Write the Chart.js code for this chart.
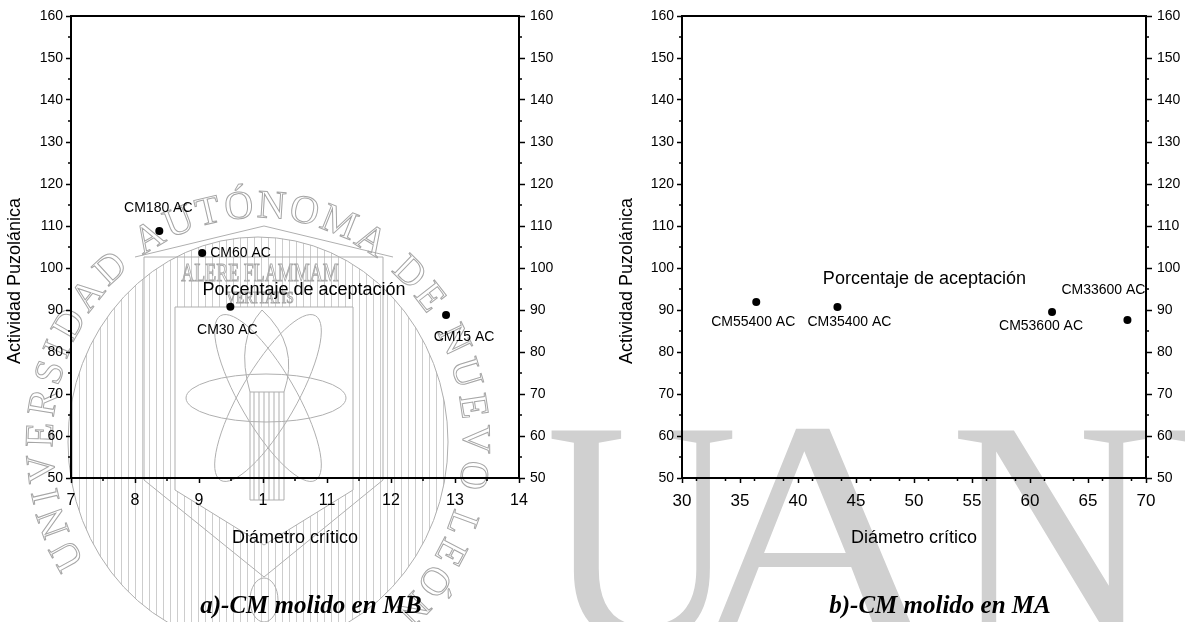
<!DOCTYPE html>
<html><head><meta charset="utf-8">
<script src="https://cdn.jsdelivr.net/npm/chart.js@4.4.1/dist/chart.umd.min.js"></script>
<style>
html,body{margin:0;padding:0;background:#fff;width:1185px;height:622px;overflow:hidden}
canvas{position:absolute;top:0}
#wm{left:0}
#c1{left:0}
#c2{left:600px}
</style></head><body>
<canvas id="wm" width="1185" height="622"></canvas>
<canvas id="c1" width="600" height="622"></canvas>
<canvas id="c2" width="585" height="622"></canvas>
<script>
// ---- data ----
const mbLabels = ["CM180 AC", "CM60 AC", "CM30 AC", "CM15 AC"];
const mbDiametro = [8.38, 9.05, 9.49, 12.86];
const mbActividad = [108.8, 103.6, 90.8, 88.8];
const mbXTicks = ["7", "8", "9", "1", "11", "12", "13", "14"];

const maLabels = ["CM55400 AC", "CM35400 AC", "CM53600 AC", "CM33600 AC"];
const maDiametro = [36.4, 43.4, 61.9, 68.4];
const maActividad = [91.9, 90.7, 89.5, 87.6];
const maXTicks = ["30", "35", "40", "45", "50", "55", "60", "65", "70"];

const yMin = 50, yMax = 160, yStep = 10;

// ---- watermark (background decoration) ----
function drawWatermark() {
  const c = document.getElementById('wm').getContext('2d');
  c.save();
  c.fillStyle = 'rgb(208,208,208)';
  c.font = '320px "Liberation Serif"';
  c.textBaseline = 'alphabetic';
  [['U', 546, 0.83], ['A', 686, 1.12], ['N', 950, 0.88], ['L', 1160, 0.9]].forEach(([ch, x, sx]) => {
    c.save(); c.translate(x, 640); c.scale(sx, 1); c.fillText(ch, 0, 0); c.restore();
  });
  c.restore();

  const cx = 258, cy = 442;
  c.save();
  c.save();
  c.beginPath();
  c.ellipse(cx, cy, 190, 205, 0, 0, Math.PI * 2);
  c.moveTo(175, 307); c.lineTo(353, 307); c.lineTo(353, 490); c.lineTo(264, 545); c.lineTo(175, 490); c.closePath();
  c.clip('evenodd');
  c.strokeStyle = 'rgb(205,205,205)'; c.lineWidth = 1;
  c.beginPath();
  for (let x = cx - 200; x <= cx + 200; x += 7) { c.moveTo(x + 0.5, cy - 220); c.lineTo(x + 0.5, cy + 220); }
  c.stroke();
  c.restore();

  c.strokeStyle = 'rgb(175,175,175)'; c.lineWidth = 1;
  c.beginPath(); c.ellipse(cx, cy, 190, 205, 0, 0, Math.PI * 2); c.stroke();
  c.beginPath();
  c.moveTo(144, 257); c.lineTo(383, 257); c.lineTo(383, 480); c.lineTo(264, 577); c.lineTo(144, 480); c.closePath(); c.stroke();
  c.beginPath(); c.moveTo(135, 257); c.lineTo(264, 226); c.lineTo(393, 257); c.stroke();
  c.beginPath();
  c.moveTo(175, 307); c.lineTo(353, 307); c.lineTo(353, 490); c.lineTo(264, 545); c.lineTo(175, 490); c.closePath(); c.stroke();
  c.beginPath(); c.ellipse(266, 398, 80, 24, 0, 0, Math.PI * 2); c.stroke();
  c.beginPath(); c.ellipse(268, 398, 95, 28, Math.PI / 3, 0, Math.PI * 2); c.stroke();
  c.beginPath(); c.ellipse(268, 398, 95, 28, -Math.PI / 3, 0, Math.PI * 2); c.stroke();
  c.beginPath(); c.rect(250, 392, 34, 108); c.stroke();
  c.beginPath();
  for (let x = 254; x < 284; x += 5) { c.moveTo(x, 392); c.lineTo(x, 500); }
  c.stroke();
  c.beginPath(); c.moveTo(250, 392); c.quadraticCurveTo(235, 340, 262, 310); c.quadraticCurveTo(300, 345, 284, 392); c.stroke();
  c.beginPath(); c.ellipse(264, 600, 14, 22, 0, 0, Math.PI * 2); c.stroke();
  c.lineWidth = 1; c.strokeStyle = 'rgb(165,165,165)';
  c.textAlign = 'center'; c.textBaseline = 'alphabetic';
  c.save(); c.translate(260, 281); c.scale(0.72, 1); c.font = '25px "Liberation Serif"'; c.strokeText('ALERE FLAMMAM', 0, 0); c.restore();
  c.save(); c.translate(260, 303); c.scale(0.8, 1); c.font = '17px "Liberation Serif"'; c.strokeText('VERITATIS', 0, 0); c.restore();

  const ring = 'UNIVERSIDAD AUTÓNOMA DE NUEVO LEÓN';
  c.font = '40px "Liberation Serif"';
  const chars = [...ring];
  const ws = chars.map(ch => c.measureText(ch).width);
  const Rm = 228;
  const sweep = 262 * Math.PI / 180 * Rm;
  const sum = ws.reduce((a, b) => a + b, 0);
  const sp = (sweep - sum) / chars.length;
  let cum = 0; const starts = [];
  ws.forEach(w => { starts.push(cum); cum += w + sp; });
  const anchor = starts[16];
  const rx = 236, ry = 255;
  c.textAlign = 'center'; c.textBaseline = 'top';
  chars.forEach((ch, i) => {
    if (ch === ' ') return;
    const th = -Math.PI / 2 + (starts[i] + ws[i] / 2 - anchor) / Rm;
    c.save();
    c.translate(cx + rx * Math.cos(th), cy + ry * Math.sin(th));
    c.rotate(th + Math.PI / 2);
    c.strokeText(ch, 0, 0);
    c.restore();
  });
  c.restore();
}
drawWatermark();

// ---- chart decoration plugin ----
const decoPlugin = {
  id: 'deco',
  afterDraw(chart, args, o) {
    const ctx = chart.ctx, a = chart.chartArea;
    const xs = chart.scales.x, ys = chart.scales.y;
    ctx.save();
    ctx.strokeStyle = '#000'; ctx.fillStyle = '#000';
    ctx.lineWidth = 2;
    ctx.beginPath(); ctx.moveTo(a.left, a.top); ctx.lineTo(a.right, a.top); ctx.stroke();
    ctx.lineWidth = 1.5;
    ctx.beginPath();
    for (let v = yMin + yStep / 2; v < yMax; v += yStep) {
      const py = ys.getPixelForValue(v);
      ctx.moveTo(a.left, py); ctx.lineTo(a.left - 3, py);
      ctx.moveTo(a.right, py); ctx.lineTo(a.right + 3, py);
    }
    for (let v = o.xmin + o.xstep / 2; v < o.xmax; v += o.xstep) {
      const px = xs.getPixelForValue(v);
      ctx.moveTo(px, a.bottom); ctx.lineTo(px, a.bottom + 3);
    }
    ctx.stroke();
    ctx.font = '14px "Liberation Sans"';
    ctx.textBaseline = 'middle';
    const meta = chart.getDatasetMeta(0);
    meta.data.forEach((el, i) => {
      const off = o.offsets[i];
      ctx.textAlign = off[2];
      ctx.fillText(o.labels[i], el.x + off[0], el.y + off[1]);
    });
    ctx.font = '18px "Liberation Sans"';
    ctx.textAlign = 'center';
    ctx.fillText(o.note, xs.getPixelForValue(o.notePos[0]), ys.getPixelForValue(o.notePos[1]));
    ctx.font = '18px "Liberation Sans"';
    ctx.fillText(o.xTitle, (a.left + a.right) / 2, 538);
    ctx.save();
    ctx.translate(o.yTitleX, 281); ctx.rotate(-Math.PI / 2);
    ctx.fillText(o.yTitle, 0, 0);
    ctx.restore();
    ctx.font = 'italic bold 25px "Liberation Serif"';
    ctx.fillText(o.caption, o.captionX, 607);
    ctx.restore();
  }
};

function makeChart(id, cfg) {
  const tickFont = { family: 'Liberation Sans', size: 14 };
  const gridCommon = { drawOnChartArea: false, drawTicks: true, color: '#000', tickWidth: 1.5 };
  return new Chart(document.getElementById(id), {
    type: 'scatter',
    data: {
      datasets: [{
        data: cfg.xs.map((x, i) => ({ x: x, y: cfg.ys[i] })),
        backgroundColor: '#000', borderColor: '#000',
        pointRadius: 4, pointHoverRadius: 4, pointBorderWidth: 0
      }]
    },
    options: {
      responsive: false, animation: false, devicePixelRatio: 1,
      layout: { padding: { top: 16, left: 0, right: 0, bottom: 0 } },
      plugins: { legend: { display: false }, tooltip: { enabled: false }, deco: cfg.deco },
      scales: {
        x: {
          type: 'linear', position: 'bottom', min: cfg.xmin, max: cfg.xmax,
          ticks: {
            stepSize: cfg.xstep, autoSkip: false, maxRotation: 0, padding: 8, color: '#000',
            font: { family: 'Liberation Sans', size: cfg.xFont },
            callback: (v) => cfg.xTicks[Math.round((v - cfg.xmin) / cfg.xstep)]
          },
          grid: Object.assign({ tickLength: 5 }, gridCommon),
          border: { display: true, color: '#000', width: 2 },
          afterFit: s => { s.height = 144; }
        },
        y: {
          type: 'linear', position: 'left', min: yMin, max: yMax,
          ticks: { stepSize: yStep, padding: 3, color: '#000', font: tickFont },
          grid: Object.assign({ tickLength: 5 }, gridCommon),
          border: { display: true, color: '#000', width: 2 },
          afterFit: s => { s.width = cfg.leftW; }
        },
        y2: {
          type: 'linear', position: 'right', min: yMin, max: yMax,
          ticks: { stepSize: yStep, padding: 5, color: '#000', font: tickFont },
          grid: Object.assign({ tickLength: 6 }, gridCommon),
          border: { display: true, color: '#000', width: 2 },
          afterFit: s => { s.width = cfg.rightW; }
        }
      }
    },
    plugins: [decoPlugin]
  });
}

makeChart('c1', {
  xs: mbDiametro, ys: mbActividad, xmin: 7, xmax: 14, xstep: 1, xTicks: mbXTicks, xFont: 16,
  leftW: 71, rightW: 81,
  deco: {
    xmin: 7, xmax: 14, xstep: 1,
    labels: mbLabels,
    offsets: [[-1, -23, 'center'], [8, 0, 'left'], [-3, 24, 'center'], [18, 22, 'center']],
    note: 'Porcentaje de aceptación', notePos: [10.64, 94.8],
    xTitle: 'Diámetro crítico', yTitle: 'Actividad Puzolánica', yTitleX: 15,
    caption: 'a)-CM molido en MB', captionX: 311
  }
});

makeChart('c2', {
  xs: maDiametro, ys: maActividad, xmin: 30, xmax: 70, xstep: 5, xTicks: maXTicks, xFont: 17,
  leftW: 82, rightW: 39,
  deco: {
    xmin: 30, xmax: 70, xstep: 2.5,
    labels: maLabels,
    offsets: [[-3, 20, 'center'], [12, 15, 'center'], [-11, 14, 'center'], [-24, -30, 'center']],
    note: 'Porcentaje de aceptación', notePos: [50.9, 97.4],
    xTitle: 'Diámetro crítico', yTitle: 'Actividad Puzolánica', yTitleX: 27,
    caption: 'b)-CM molido en MA', captionX: 340
  }
});
</script>
</body></html>
